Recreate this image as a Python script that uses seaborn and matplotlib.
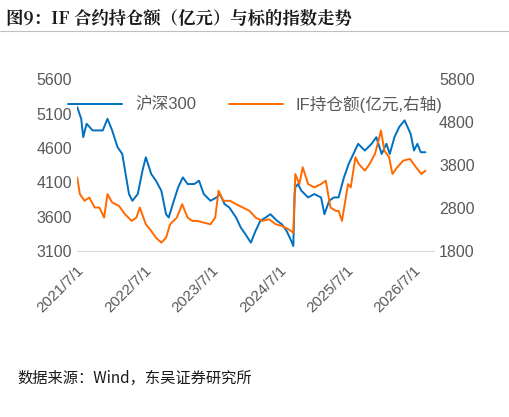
import numpy as np, pandas as pd, matplotlib
matplotlib.use("Agg")
import matplotlib.pyplot as plt, matplotlib.dates as mdates
import seaborn as sns

sns.set_style("white")
plt.rcParams['font.family'] = ['Liberation Sans', 'Noto Sans CJK SC', 'DejaVu Sans']

# time positions (fractional year) and values
hs_t = [2021.50,2021.56,2021.59,2021.64,2021.73,2021.88,2021.95,2022.02,2022.10,2022.17,2022.22,2022.27,2022.32,2022.40,2022.47,2022.52,2022.60,2022.67,2022.75,2022.82,2022.86,2022.92,2023.00,2023.07,2023.14,2023.24,2023.31,2023.38,2023.48,2023.57,2023.62,2023.69,2023.76,2023.86,2023.93,2024.00,2024.08,2024.15,2024.22,2024.30,2024.37,2024.47,2024.54,2024.61,2024.68,2024.71,2024.73,2024.74,2024.78,2024.83,2024.93,2025.02,2025.12,2025.17,2025.24,2025.31,2025.38,2025.46,2025.53,2025.60,2025.67,2025.77,2025.87,2025.94,2026.02,2026.09,2026.14,2026.21,2026.28,2026.36,2026.45,2026.50,2026.55,2026.60,2026.67]
hs300 = [5196,5025,4757,4952,4855,4855,5025,4855,4611,4513,4221,3929,3831,3929,4270,4465,4221,4124,3977,3636,3588,3782,4026,4172,4075,4075,4124,3929,3831,3880,3929,3782,3734,3588,3441,3344,3222,3393,3539,3588,3636,3539,3490,3393,3247,3173,3929,4026,4075,3977,3880,3929,3880,3636,3831,3880,3880,4172,4367,4513,4660,4562,4660,4757,4513,4660,4513,4757,4904,5001,4806,4562,4660,4538,4538]
if_t = [2021.50,2021.54,2021.61,2021.68,2021.76,2021.83,2021.90,2021.95,2022.02,2022.12,2022.21,2022.31,2022.38,2022.43,2022.52,2022.60,2022.67,2022.75,2022.82,2022.88,2022.98,2023.06,2023.14,2023.21,2023.29,2023.38,2023.48,2023.55,2023.60,2023.67,2023.77,2023.86,2023.96,2024.06,2024.15,2024.25,2024.35,2024.45,2024.54,2024.64,2024.71,2024.74,2024.80,2024.85,2024.93,2025.02,2025.12,2025.19,2025.26,2025.34,2025.38,2025.43,2025.52,2025.56,2025.63,2025.68,2025.77,2025.84,2025.92,2025.96,2026.01,2026.06,2026.13,2026.18,2026.25,2026.34,2026.44,2026.53,2026.61,2026.67]
if_oi = [3515,3125,2969,3047,2813,2813,2579,3125,2930,2852,2657,2501,2579,2813,2423,2267,2111,1995,2111,2423,2579,2891,2579,2501,2501,2462,2423,2579,3203,2969,2969,2891,2813,2735,2579,2501,2540,2423,2384,2306,2228,3593,3359,3749,3359,3281,3359,3437,2813,2735,2735,2501,3359,3281,3983,3827,3671,3827,4061,4295,4607,4139,3983,3593,3749,3905,3944,3749,3593,3671]

def todate(ts):
    out = []
    for t in ts:
        y = int(t); f = t - y
        out.append(pd.Timestamp(y, 1, 1) + pd.Timedelta(days=f * 365.25))
    return out

d1 = pd.DataFrame({"date": todate(hs_t), "v": hs300})
d2 = pd.DataFrame({"date": todate(if_t), "v": if_oi})

fig = plt.figure(figsize=(5.09, 4.17), dpi=100)
ax = fig.add_axes([0.151, 0.398, 0.702, 0.412])
ax2 = ax.twinx()
blue, orange = "#0070C0", "#FF6A00"
sns.lineplot(data=d1, x="date", y="v", ax=ax, color=blue, lw=1.4, label="沪深300", legend=False)
sns.lineplot(data=d2, x="date", y="v", ax=ax2, color=orange, lw=1.4, label="IF持仓额(亿元,右轴)", legend=False)
ax.set_ylim(3100, 5600); ax.set_yticks(range(3100, 5601, 500))
ax2.set_ylim(1800, 5800); ax2.set_yticks(range(1800, 5801, 1000))
ax.set_xlim(pd.Timestamp(2021, 7, 1), pd.Timestamp(2026, 10, 20))
ticks = [pd.Timestamp(y, 7, 1) for y in range(2021, 2027)]
ax.set_xticks(ticks)
ax.set_xticklabels([f"{y}/7/1" for y in range(2021, 2027)], rotation=45, ha="right", rotation_mode="anchor")
for a in (ax, ax2):
    a.set_xlabel(""); a.set_ylabel("")
    for s in a.spines.values(): s.set_visible(False)
    a.tick_params(colors="#595959", labelsize=11.5, length=0)
ax.spines["bottom"].set_visible(True); ax.spines["bottom"].set_color("#D9D9D9")
ax.tick_params(axis="x", length=5, color="#D9D9D9", labelsize=11)
h1, l1 = ax.get_legend_handles_labels(); h2, l2 = ax2.get_legend_handles_labels()
ax.legend(h1 + h2, l1 + l2, loc="upper center", ncol=2, frameon=False, fontsize=12,
          bbox_to_anchor=(0.5, 0.99), labelcolor="#595959", handlelength=3.2, columnspacing=2.0,
          prop={'family': ['Liberation Sans', 'Noto Sans CJK SC'], 'size': 12})
fig.text(0.012, 0.955, "图9：IF 合约持仓额（亿元）与标的指数走势", fontsize=12.5, fontweight="bold",
         color="#1a1a1a", va="center", family=['Noto Serif CJK SC', 'Noto Sans CJK SC', 'DejaVu Sans'])
fig.add_artist(plt.Line2D([0.0, 1.0], [0.925, 0.925], color="#BFBFBF", lw=0.8))
fig.text(0.035, 0.093, "数据来源：Wind，东吴证券研究所", fontsize=11, color="#1a1a1a", va="center",
         family=['Noto Sans CJK SC', 'DejaVu Sans'])
fig.savefig("out.png", dpi=100)
